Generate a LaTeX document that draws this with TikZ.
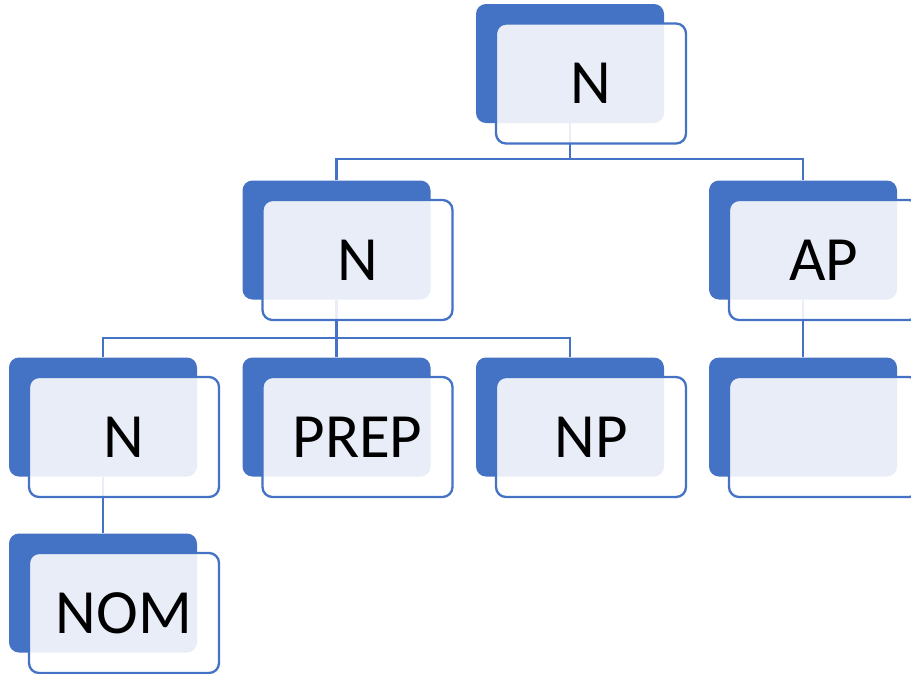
\documentclass[tikz,border=0pt]{standalone}
\usepackage{fontspec}
\setmainfont{Carlito}
\usetikzlibrary{calc}
\definecolor{accent}{HTML}{4472C4}
\pgfdeclarelayer{wires}
\pgfsetlayers{wires,main}
\tikzset{
  backbox/.style={fill=accent, rounded corners=10pt, minimum width=188pt,
    minimum height=119pt, inner sep=0pt},
  frontbox/.style={draw=accent, line width=2.3pt, fill=white, fill opacity=0.88,
    text opacity=1, rounded corners=10pt, minimum width=190pt,
    minimum height=120pt, inner sep=0pt,
    font=\fontsize{63}{63}\selectfont},
  wire/.style={draw=accent, line width=2.3pt},
}
% a stacked pair: solid back card plus translucent front card with the label
\newcommand{\cardpair}[4]{%
  \node[backbox] (#1-b) at (#2,#3) {};
  \node[frontbox] (#1-f) at ($(#2,#3)+(21,20)$) {#4};
}
\begin{document}
\begin{tikzpicture}[x=1pt, y=-1pt]
  \useasboundingbox (0,0) rectangle (911,673);
  \clip (0,0) rectangle (911,673);

  \cardpair{root}{570}{63.5}{N}
  \cardpair{nl}{336.5}{240}{N}
  \cardpair{ap}{803}{240}{AP}
  \cardpair{nn}{103}{417}{N}
  \cardpair{prep}{336.5}{417}{PREP}
  \cardpair{np}{570}{417}{NP}
  \cardpair{blank}{803}{417}{}
  \cardpair{nom}{103}{593}{NOM}

  \begin{pgfonlayer}{wires}
    \draw[wire] (nl-b.north) -- ++(0,-21) -| (root-b.south);
    \draw[wire] (ap-b.north) -- ++(0,-21) -| (root-b.south);
    \draw[wire] (nn-b.north) -- ++(0,-19) -| (nl-b.south);
    \draw[wire] (prep-b.north) -- (nl-b.south);
    \draw[wire] (np-b.north) -- ++(0,-19) -| (nl-b.south);
    \draw[wire] (blank-b.north) -- (ap-b.south);
    \draw[wire] (nom-b.north) -- (nn-b.south);
  \end{pgfonlayer}
\end{tikzpicture}
\end{document}
